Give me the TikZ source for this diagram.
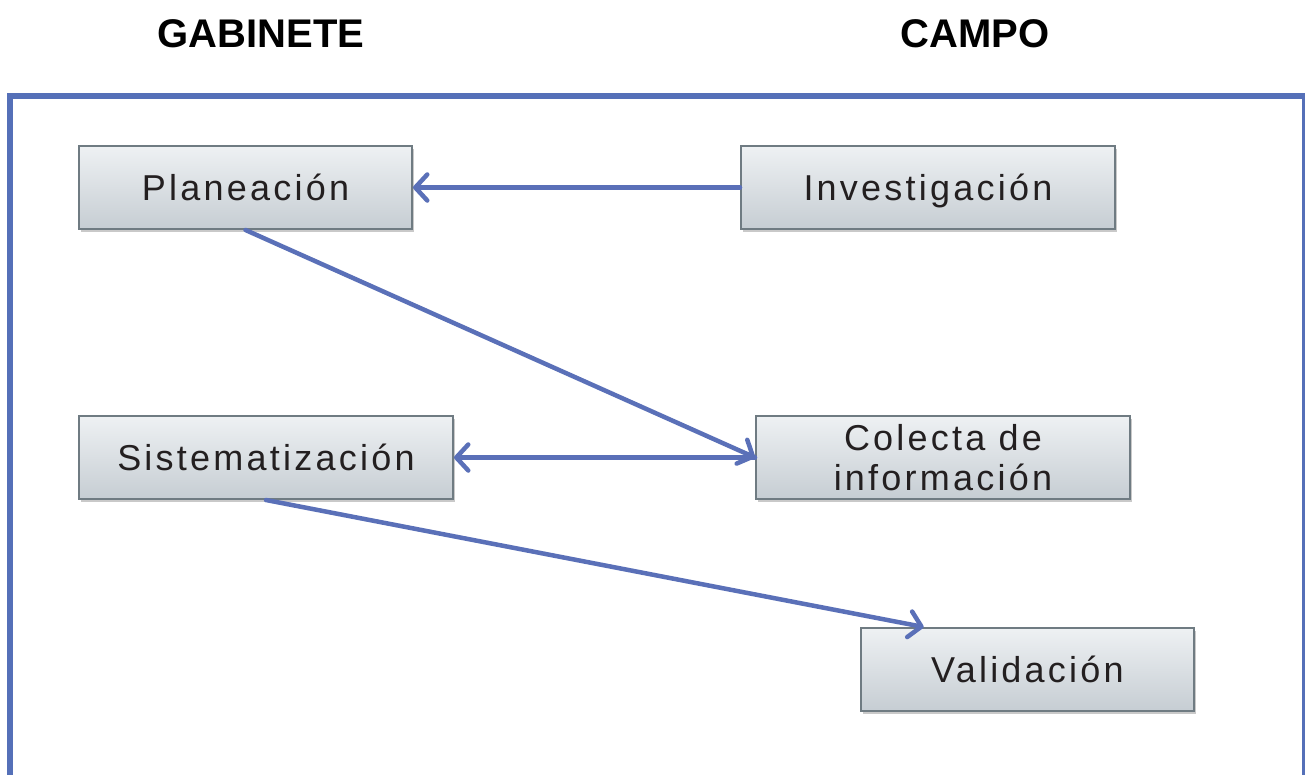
\documentclass[tikz,border=0pt]{standalone}
\usepackage{fontspec}
\setmainfont{Liberation Sans}
\newfontfamily\boxfont[LetterSpace=9]{Liberation Sans}
\usetikzlibrary{arrows.meta,shadows,calc}
\definecolor{frameblue}{HTML}{5570B8}
\definecolor{arrowblue}{HTML}{5A70B8}
\definecolor{boxtop}{HTML}{EEF1F3}
\definecolor{boxbot}{HTML}{C6CDD3}
\definecolor{boxline}{HTML}{6F7B82}
\definecolor{txt}{HTML}{231F20}
\tikzset{
  x=1pt, y=1pt,
  stagebox/.style={draw=boxline, line width=2pt, top color=boxtop, bottom color=boxbot,
    minimum width=#1, minimum height=83pt, inner sep=0pt, align=center,
    font=\fontsize{36}{40}\boxfont, text=txt,
    drop shadow={shadow xshift=1.5pt, shadow yshift=-3pt, opacity=0.35, fill=black!60}},
  oneline/.style={text height=26pt, text depth=0pt},
  flow/.style={draw=arrowblue, line width=4.5pt, line cap=round,
    -{Straight Barb[length=12pt,width=26pt,line width=4.5pt,round]}},
  title/.style={font=\fontsize{40}{44}\selectfont\bfseries, text=black},
}
\begin{document}
\begin{tikzpicture}
\useasboundingbox (0,0) rectangle (1305,-774);
\clip (0,0) rectangle (1305,-774);
\fill[white] (0,0) rectangle (1305,-774);
\draw[frameblue, line width=6pt] (10,-780) -- (10,-96) -- (1305,-96) -- (1305,-780);
\node[title] (gab) at (261,-34) {GABINETE};
\node[title] (cam) at (975,-34) {CAMPO};
\node[stagebox=333pt, oneline] (plan) at (245.5,-187.5) {Planeación};
\node[stagebox=374pt, oneline] (inv) at (928,-187.5) {Investigación};
\node[stagebox=374pt, oneline] (sis) at (266,-457.5) {Sistematización};
\node[stagebox=374pt] (col) at (943,-457.5) {Colecta de\\información};
\node[stagebox=333pt, oneline] (val) at (1027.5,-669.5) {Validación};
\coordinate (valin) at ($(val.north west)!0.19!(val.north east)$);
\draw[flow] (inv.west) -- (plan.east);
\draw[flow] (plan.south) -- (col.west);
\draw[flow] (col.west) -- (sis.east);
\draw[flow] (sis.south) -- (valin);
\end{tikzpicture}
\end{document}
